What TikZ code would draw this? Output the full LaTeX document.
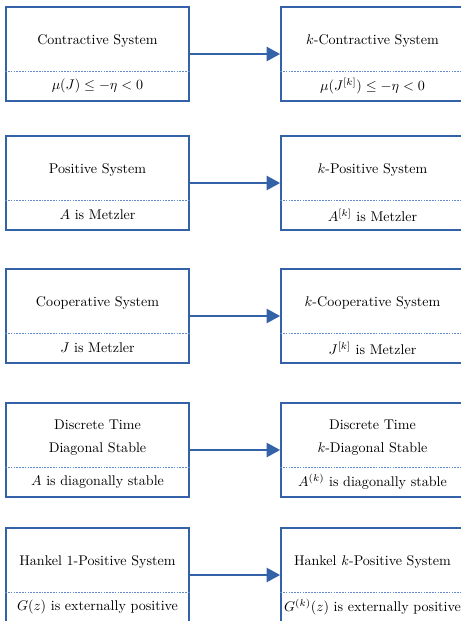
\documentclass[tikz,border=0pt]{standalone}
\usepackage{amsmath}
\usetikzlibrary{arrows.meta}
\definecolor{frameBlue}{RGB}{52, 98, 168}
\definecolor{splitBlue}{RGB}{96, 140, 205}

\begin{document}
\begin{tikzpicture}[x=0.25mm,y=-0.25mm]
            \useasboundingbox (0,0) rectangle (460,621);
            \tikzset{
                sysframe/.style={draw=frameBlue,line width=0.45mm,minimum width=45.75mm,minimum height=23.5mm,inner sep=0pt},
                systitle/.style={align=center,inner sep=1pt},
                syscond/.style={inner sep=1pt},
                splitline/.style={draw=splitBlue,line width=0.6pt,dash pattern=on 1.2pt off 0.8pt},
                implies/.style={-{Triangle[length=3.4mm,width=3.6mm]},draw=frameBlue,line width=0.45mm}
            }

            % Row 1: contraction
            \node[sysframe] (contr) at (97.5,54) {};
            \node[sysframe] (kcontr) at (372.5,54) {};
            \node[systitle] (contr-t) at (97.5,41) {Contractive System};
            \node[syscond] (contr-c) at (97.5,86) {$\mu(J) \leq -\eta < 0$};
            \node[systitle] (kcontr-t) at (372.5,41) {$k$-Contractive System};
            \node[syscond] (kcontr-c) at (372.5,86) {$\mu(J^{[k]}) \leq -\eta < 0$};

            % Row 2: positivity
            \node[sysframe] (pos) at (97.5,183) {};
            \node[sysframe] (kpos) at (372.5,183) {};
            \node[systitle] (pos-t) at (97.5,170) {Positive System};
            \node[syscond] (pos-c) at (97.5,215) {$A$ is Metzler};
            \node[systitle] (kpos-t) at (372.5,170) {$k$-Positive System};
            \node[syscond] (kpos-c) at (372.5,215) {$A^{[k]}$ is Metzler};

            % Row 3: cooperativity
            \node[sysframe] (coop) at (97.5,316) {};
            \node[sysframe] (kcoop) at (372.5,316) {};
            \node[systitle] (coop-t) at (97.5,303) {Cooperative System};
            \node[syscond] (coop-c) at (97.5,348) {$J$ is Metzler};
            \node[systitle] (kcoop-t) at (372.5,303) {$k$-Cooperative System};
            \node[syscond] (kcoop-c) at (372.5,348) {$J^{[k]}$ is Metzler};

            % Row 4: diagonal stability
            \node[sysframe] (diag) at (97.5,450) {};
            \node[sysframe] (kdiag) at (372.5,450) {};
            \node[systitle] (diag-t) at (97.5,438) {Discrete Time\\[4.4pt] Diagonal Stable};
            \node[syscond] (diag-c) at (97.5,482) {$A$ is diagonally stable};
            \node[systitle] (kdiag-t) at (372.5,438) {Discrete Time\\[4.4pt] $k$-Diagonal Stable};
            \node[syscond] (kdiag-c) at (372.5,482) {$A^{(k)}$ is diagonally stable};

            % Row 5: Hankel positivity
            \node[sysframe] (hank) at (97.5,575) {};
            \node[sysframe] (khank) at (372.5,575) {};
            \node[systitle] (hank-t) at (97.5,562) {Hankel 1-Positive System};
            \node[syscond] (hank-c) at (97.5,607) {$G(z)$ is externally positive};
            \node[systitle] (khank-t) at (372.5,562) {Hankel $k$-Positive System};
            \node[syscond] (khank-c) at (372.5,607) {$G^{(k)}(z)$ is externally positive};

            % Dashed dividers
            \draw[splitline] ([yshift=-4.25mm]contr.west) -- ([yshift=-4.25mm]contr.east);
            \draw[splitline] ([yshift=-4.25mm]kcontr.west) -- ([yshift=-4.25mm]kcontr.east);
            \draw[splitline] ([yshift=-4.25mm]pos.west) -- ([yshift=-4.25mm]pos.east);
            \draw[splitline] ([yshift=-4.25mm]kpos.west) -- ([yshift=-4.25mm]kpos.east);
            \draw[splitline] ([yshift=-4.25mm]coop.west) -- ([yshift=-4.25mm]coop.east);
            \draw[splitline] ([yshift=-4.25mm]kcoop.west) -- ([yshift=-4.25mm]kcoop.east);
            \draw[splitline] ([yshift=-4.25mm]diag.west) -- ([yshift=-4.25mm]diag.east);
            \draw[splitline] ([yshift=-4.25mm]kdiag.west) -- ([yshift=-4.25mm]kdiag.east);
            \draw[splitline] ([yshift=-4.25mm]hank.west) -- ([yshift=-4.25mm]hank.east);
            \draw[splitline] ([yshift=-4.25mm]khank.west) -- ([yshift=-4.25mm]khank.east);

            % Implications
            \draw[implies] (contr) -- (kcontr);
            \draw[implies] (pos) -- (kpos);
            \draw[implies] (coop) -- (kcoop);
            \draw[implies] (diag) -- (kdiag);
            \draw[implies] (hank) -- (khank);
        \end{tikzpicture}
\end{document}
